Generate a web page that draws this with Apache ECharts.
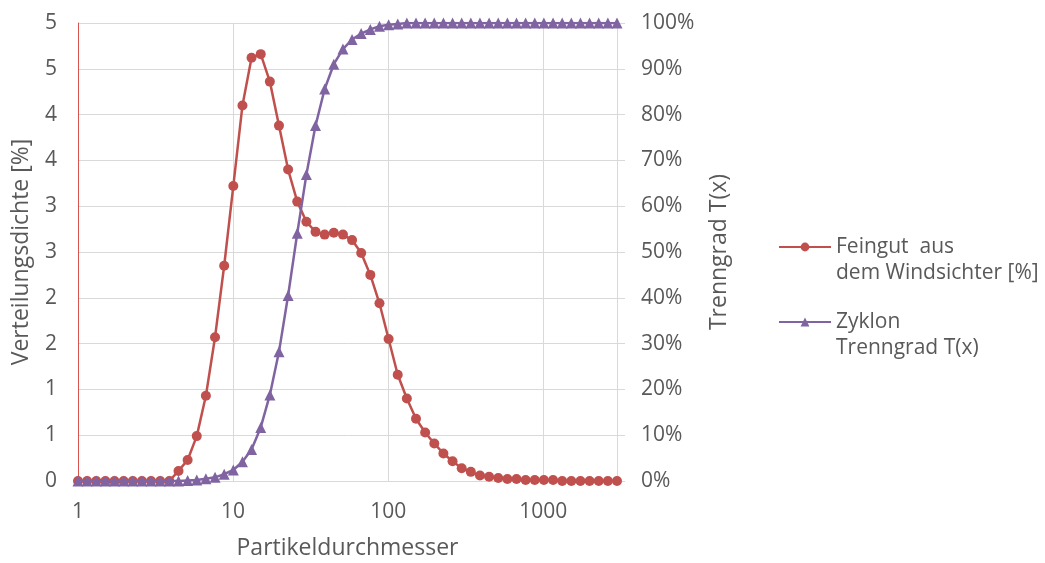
<!DOCTYPE html>
<html>
<head>
<meta charset="utf-8">
<script src="https://cdn.jsdelivr.net/npm/echarts@6/dist/echarts.min.js"></script>
<style>
html,body{margin:0;padding:0;background:#fff;}
#chart{width:1045px;height:563px;}
</style>
</head>
<body>
<div id="chart"></div>
<script>
const particleSizes = [1, 1.145, 1.311, 1.502, 1.720, 1.970, 2.256, 2.584, 2.959, 3.389,
  3.882, 4.445, 5.091, 5.831, 6.678, 7.648, 8.759, 10.03, 11.49, 13.15,
  15.07, 17.26, 19.76, 22.63, 25.92, 29.69, 34.00, 38.94, 44.60, 51.08,
  58.48, 66.98, 76.71, 87.85, 100.6, 115.2, 131.9, 151.1, 173.1, 198.2,
  227.0, 260.0, 297.8, 341.0, 390.5, 447.3, 512.3, 586.7, 671.9, 769.5,
  881.0, 1009, 1156, 1324, 1516, 1736, 1988, 2277, 2608, 2987];

// Feingut aus dem Windsichter [%] (left axis)
const feingut = [0, 0, 0, 0, 0, 0, 0, 0, 0, 0,
  0, 0.11, 0.23, 0.49, 0.93, 1.57, 2.35, 3.22, 4.10, 4.62,
  4.66, 4.36, 3.88, 3.40, 3.05, 2.83, 2.72, 2.69, 2.71, 2.69,
  2.63, 2.49, 2.25, 1.94, 1.55, 1.16, 0.90, 0.68, 0.53, 0.41,
  0.30, 0.215, 0.14, 0.10, 0.06, 0.047, 0.033, 0.022, 0.022, 0.011,
  0.01, 0.01, 0.01, 0, 0, 0, 0, 0, 0, 0];

// Zyklon Trenngrad T(x) [%] (right axis)
const zyklon = [0, 0, 0, 0, 0, 0, 0, 0, 0, 0,
  0, 0, 0.1, 0.2, 0.5, 0.8, 1.5, 2.4, 4.2, 6.9,
  11.7, 18.8, 28.2, 40.5, 54.1, 66.9, 77.6, 85.6, 91.0, 94.3,
  96.4, 97.7, 98.6, 99.3, 99.6, 99.8, 100, 100, 100, 100,
  100, 100, 100, 100, 100, 100, 100, 100, 100, 100,
  100, 100, 100, 100, 100, 100, 100, 100, 100, 100];

const seriesNames = ['Feingut  aus\ndem Windsichter [%]', 'Zyklon\nTrenngrad T(x)'];
const xTickLabels = {1: '1', 10: '10', 100: '100', 1000: '1000'};
const leftTickLabels = ['0', '1', '1', '2', '2', '3', '3', '4', '4', '5', '5'];
const rightTickLabels = ['0%', '10%', '20%', '30%', '40%', '50%', '60%', '70%', '80%', '90%', '100%'];
const xTitle = 'Partikeldurchmesser';
const leftTitle = 'Verteilungsdichte [%]';
const rightTitle = 'Trenngrad T(x)';

const FONT = 'Open Sans';
const TXT = '#595959';
const GRID = '#d9d9d9';
const RED = '#c0504d';
const PURPLE = '#8064a2';

const chart = echarts.init(document.getElementById('chart'), null, {renderer: 'canvas'});
chart.setOption({
  animation: false,
  backgroundColor: '#fff',
  textStyle: {fontFamily: FONT},
  grid: {left: 78, right: 428, top: 23, bottom: 82, containLabel: false, outerBoundsMode: 'none'},
  legend: {
    orient: 'vertical',
    left: 778,
    top: 208,
    padding: 0,
    itemWidth: 52,
    itemHeight: 11,
    itemGap: -3,
    textStyle: {color: TXT, fontSize: 21, fontFamily: FONT, lineHeight: 26},
    formatter: function (name) { return '\n' + name; },
    data: seriesNames
  },
  xAxis: {
    type: 'log',
    logBase: 10,
    min: 1,
    max: 2987,
    name: xTitle,
    nameLocation: 'middle',
    nameGap: 56,
    nameTextStyle: {color: TXT, fontSize: 23, fontFamily: FONT},
    axisLine: {show: true, lineStyle: {color: GRID, width: 1}},
    axisTick: {show: false},
    splitLine: {show: true, lineStyle: {color: GRID, width: 1}},
    axisLabel: {
      color: TXT, fontSize: 21, fontFamily: FONT, margin: 21,
      showMaxLabel: false,
      formatter: function (v) { return xTickLabels[Math.round(v)] || ''; }
    }
  },
  yAxis: [
    {
      type: 'value',
      min: 0,
      max: 5,
      interval: 0.5,
      name: leftTitle,
      nameLocation: 'middle',
      nameGap: 45,
      nameTextStyle: {color: TXT, fontSize: 23, fontFamily: FONT},
      axisLine: {show: true, lineStyle: {color: '#d9534f', width: 1}},
      axisTick: {show: false},
      splitLine: {show: true, lineStyle: {color: GRID, width: 1}},
      axisLabel: {
        color: TXT, fontSize: 21, fontFamily: FONT, margin: 21,
        formatter: function (v) { return leftTickLabels[Math.round(v / 0.5)]; }
      }
    },
    {
      type: 'value',
      min: 0,
      max: 100,
      interval: 10,
      name: rightTitle,
      nameLocation: 'middle',
      nameGap: 91,
      nameRotate: 90,
      nameTextStyle: {color: TXT, fontSize: 23, fontFamily: FONT},
      axisLine: {show: true, lineStyle: {color: GRID, width: 1}},
      axisTick: {show: true, inside: false, length: 8, lineStyle: {color: GRID}},
      splitLine: {show: false},
      axisLabel: {
        color: TXT, fontSize: 21, fontFamily: FONT, margin: 24,
        formatter: function (v) { return rightTickLabels[Math.round(v / 10)]; }
      }
    }
  ],
  series: [
    {
      name: seriesNames[0],
      type: 'line',
      yAxisIndex: 0,
      data: particleSizes.map((x, i) => [x, feingut[i]]),
      symbol: 'circle',
      symbolSize: 10,
      showAllSymbol: true,
      lineStyle: {color: RED, width: 2.5},
      itemStyle: {color: RED},
      z: 2
    },
    {
      name: seriesNames[1],
      type: 'line',
      yAxisIndex: 1,
      data: particleSizes.map((x, i) => [x, zyklon[i]]),
      symbol: 'triangle',
      symbolSize: 11,
      showAllSymbol: true,
      lineStyle: {color: PURPLE, width: 2.5},
      itemStyle: {color: PURPLE},
      z: 3
    }
  ]
});
</script>
</body>
</html>
